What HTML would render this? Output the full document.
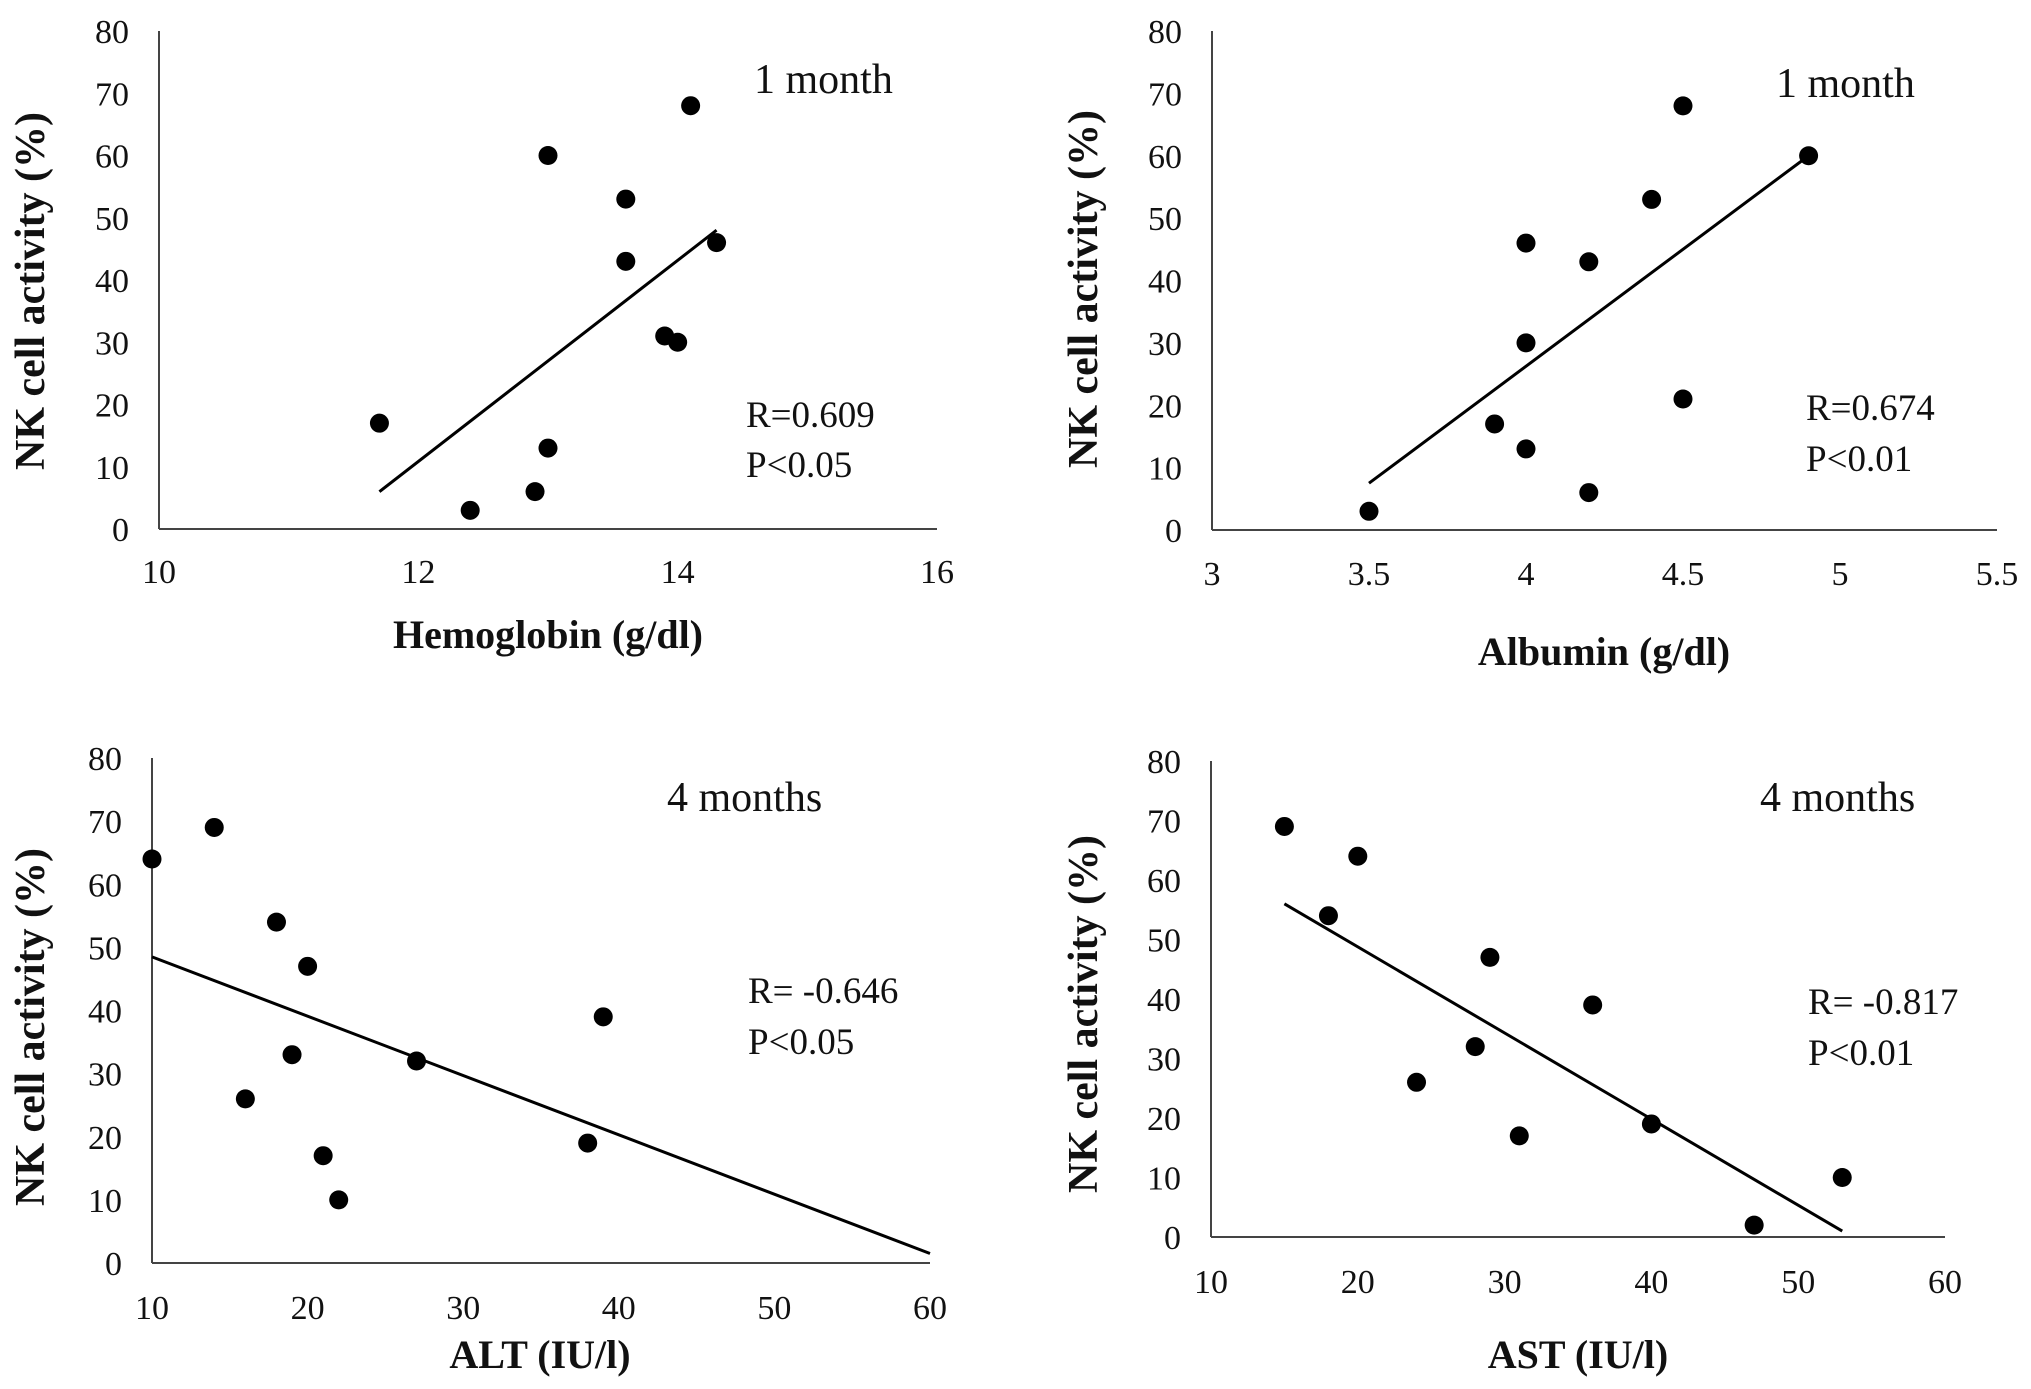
<!DOCTYPE html>
<html><head><meta charset="utf-8"><style>
html,body{margin:0;padding:0;background:#fff;}
svg{display:block;}
text{font-family:"Liberation Serif",serif;fill:#111;}
</style></head><body>
<svg id="fig" width="2031" height="1389" viewBox="0 0 2031 1389"></svg>
<script>
// Panel A: Hemoglobin
const hbX = [11.7,12.4,12.9,13.0,13.0,13.6,13.6,13.9,14.0,14.1,14.3];
const hbY = [17,3,6,13,60,53,43,31,30,68,46];
const hbTrendX = [11.7,14.3];
const hbTrendY = [6,48];
const hbTicks = [10,12,14,16];
// Panel B: Albumin
const alX = [3.5,3.9,4.0,4.0,4.0,4.2,4.2,4.4,4.5,4.5,4.9];
const alY = [3,17,13,30,46,6,43,53,21,68,60];
const alTrendX = [3.5,4.9];
const alTrendY = [7.5,60];
const alTicks = [3,3.5,4,4.5,5,5.5];
// Panel C: ALT
const altX = [10,14,16,18,19,20,21,22,27,38,39];
const altY = [64,69,26,54,33,47,17,10,32,19,39];
const altTrendX = [10,60];
const altTrendY = [48.5,1.5];
const altTicks = [10,20,30,40,50,60];
// Panel D: AST
const astX = [15,18,20,24,28,29,31,36,40,47,53];
const astY = [69,54,64,26,32,47,17,39,19,2,10];
const astTrendX = [15,53];
const astTrendY = [56,1];
const astTicks = [10,20,30,40,50,60];
const yTicks = [0,10,20,30,40,50,60,70,80];

const NS = "http://www.w3.org/2000/svg";
const svg = document.getElementById('fig');
function mk(tag, attrs, parent, txt){
  const e = document.createElementNS(NS, tag);
  for (const k in attrs) e.setAttribute(k, attrs[k]);
  if (txt !== undefined) e.textContent = txt;
  parent.appendChild(e);
  return e;
}

const panels = [
 {id:'hemoglobin', xs:hbX, ys:hbY, tx:hbTrendX, ty:hbTrendY, ticks:hbTicks, x0:159, x1:937, yb:529, yt:31,
  xtitle:'Hemoglobin (g/dl)', xtx:548, xty:648, ytx:30, yty:291, tag:'1 month', tagx:754, tagy:93,
  r:'R=0.609', p:'P<0.05', rx:746, ry:427, py:477, tickY:583},
 {id:'albumin', xs:alX, ys:alY, tx:alTrendX, ty:alTrendY, ticks:alTicks, x0:1212, x1:1997, yb:530, yt:31,
  xtitle:'Albumin (g/dl)', xtx:1604, xty:665, ytx:1083, yty:289, tag:'1 month', tagx:1776, tagy:97,
  r:'R=0.674', p:'P<0.01', rx:1806, ry:420, py:471, tickY:585},
 {id:'alt', xs:altX, ys:altY, tx:altTrendX, ty:altTrendY, ticks:altTicks, x0:152, x1:930, yb:1263, yt:758,
  xtitle:'ALT (IU/l)', xtx:540, xty:1368, ytx:30, yty:1027, tag:'4 months', tagx:667, tagy:811,
  r:'R= -0.646', p:'P<0.05', rx:748, ry:1003, py:1054, tickY:1319},
 {id:'ast', xs:astX, ys:astY, tx:astTrendX, ty:astTrendY, ticks:astTicks, x0:1211, x1:1945, yb:1237, yt:761,
  xtitle:'AST (IU/l)', xtx:1578, xty:1368, ytx:1083, yty:1014, tag:'4 months', tagx:1760, tagy:811,
  r:'R= -0.817', p:'P<0.01', rx:1808, ry:1014, py:1065, tickY:1293}
];

panels.forEach(P => {
  const g = mk('g', {}, svg);
  
  
  const xmin = P.ticks[0], xmax = P.ticks[P.ticks.length-1];
  const sx = v => P.x0 + (v - xmin) / (xmax - xmin) * (P.x1 - P.x0);
  const sy = v => P.yb - v / 80 * (P.yb - P.yt);

  const ya = mk('line', {x1:P.x0, y1:P.yt, x2:P.x0, y2:P.yb, stroke:'#444', 'stroke-width':2}, g);
  
  
  const xa = mk('line', {x1:P.x0, y1:P.yb, x2:P.x1, y2:P.yb, stroke:'#444', 'stroke-width':2}, g);
  
  

  yTicks.forEach(t => {
    const e = mk('text', {x:P.x0 - 30, y:sy(t) + 12, 'text-anchor':'end', 'font-size':34}, g, String(t));
    
    
  });
  P.ticks.forEach(t => {
    const e = mk('text', {x:sx(t), y:P.tickY, 'text-anchor':'middle', 'font-size':34}, g, String(t));
    
    
  });

  const tl = mk('line', {x1:sx(P.tx[0]), y1:sy(P.ty[0]), x2:sx(P.tx[1]), y2:sy(P.ty[1]), stroke:'#000', 'stroke-width':3}, g);
  
  

  P.xs.forEach((v, i) => {
    const c = mk('circle', {cx:sx(v), cy:sy(P.ys[i]), r:9.5, fill:'#000'}, g);
    
    
  });

  const xt = mk('text', {x:P.xtx, y:P.xty, 'text-anchor':'middle', 'font-size':40, 'font-weight':'bold', fill:'#222'}, g, P.xtitle);
  
  
  const yt = mk('text', {x:0, y:0, 'text-anchor':'middle', 'font-size':42, 'font-weight':'bold', fill:'#222',
    transform:'translate(' + (P.ytx + 14) + ',' + P.yty + ') rotate(-90)'}, g, 'NK cell activity (%)');
  
  
  const tg = mk('text', {x:P.tagx, y:P.tagy, 'font-size':42, fill:'#111'}, g, P.tag);
  
  
  const rt = mk('text', {x:P.rx, y:P.ry, 'font-size':37}, g, P.r);
  
  
  const pt = mk('text', {x:P.rx, y:P.py, 'font-size':37}, g, P.p);
  
  
});
</script>
</body></html>
